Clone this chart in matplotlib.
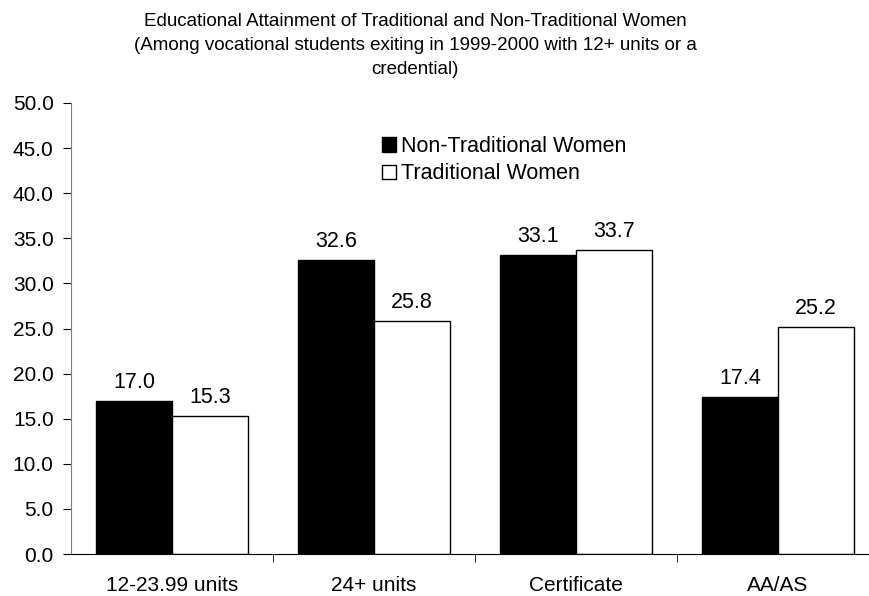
import matplotlib
matplotlib.use("Agg")
import matplotlib.pyplot as plt
import numpy as np

plt.rcParams['font.family'] = ['Liberation Sans', 'DejaVu Sans']

categories = ["12-23.99 units", "24+ units", "Certificate", "AA/AS"]
non_traditional = [17.0, 32.6, 33.1, 17.4]
traditional = [15.3, 25.8, 33.7, 25.2]
series_names = ["Non-Traditional Women", "Traditional Women"]
title_lines = ["Educational Attainment of Traditional and Non-Traditional Women",
               "(Among vocational students exiting in 1999-2000 with 12+ units or a",
               "credential)"]

FS_TITLE = 13.5
FS_TICK = 15
FS_VALUE = 15.5
FS_LEGEND = 15.5

fig = plt.figure(figsize=(8.7, 5.96), dpi=100)
ax = fig.add_axes([71 / 870, 1 - 554 / 596, 808 / 870, 451 / 596])

x = np.arange(len(categories))
w = 0.374
b1 = ax.bar(x - w / 2, non_traditional, w, color="black", edgecolor="black",
            linewidth=1, label=series_names[0])
b2 = ax.bar(x + w / 2, traditional, w, color="white", edgecolor="black",
            linewidth=1, label=series_names[1])

for bars, vals in ((b1, non_traditional), (b2, traditional)):
    for r, v in zip(bars, vals):
        ax.text(r.get_x() + r.get_width() / 2, v + 0.9, f"{v:.1f}",
                ha="center", va="bottom", fontsize=FS_VALUE)

ax.set_xlim(-0.5, len(categories) - 0.5)
ax.set_ylim(0, 50)
ax.set_yticks(np.arange(0, 50.1, 5))
ax.set_yticklabels([f"{v:.1f}" for v in np.arange(0, 50.1, 5)], fontsize=FS_TICK)
ax.set_xticks(x)
ax.set_xticklabels(categories, fontsize=FS_TICK)
ax.tick_params(axis="x", length=0, pad=16)
ax.set_xticks(np.arange(0.5, len(categories) - 0.5, 1), minor=True)
ax.tick_params(axis="x", which="minor", length=6, direction="out", color="black")
ax.tick_params(axis="y", length=5.5, direction="out", pad=7)
for s in ("top", "right"):
    ax.spines[s].set_visible(False)
ax.spines["left"].set_color("#808080")
ax.spines["bottom"].set_color("black")

leg = ax.legend(loc="upper left", bbox_to_anchor=(382 / 870, 1 - 136 / 596),
                bbox_transform=fig.transFigure, frameon=False, fontsize=FS_LEGEND,
                handlelength=0.65, handleheight=0.65, handletextpad=0.25,
                labelspacing=0.3, borderpad=0, borderaxespad=0)

for i, line in enumerate(title_lines):
    fig.text(415 / 870, 1 - (21 + 24.5 * i) / 596, line, ha="center",
             va="center", fontsize=FS_TITLE)

fig.savefig("out.png", dpi=100)
